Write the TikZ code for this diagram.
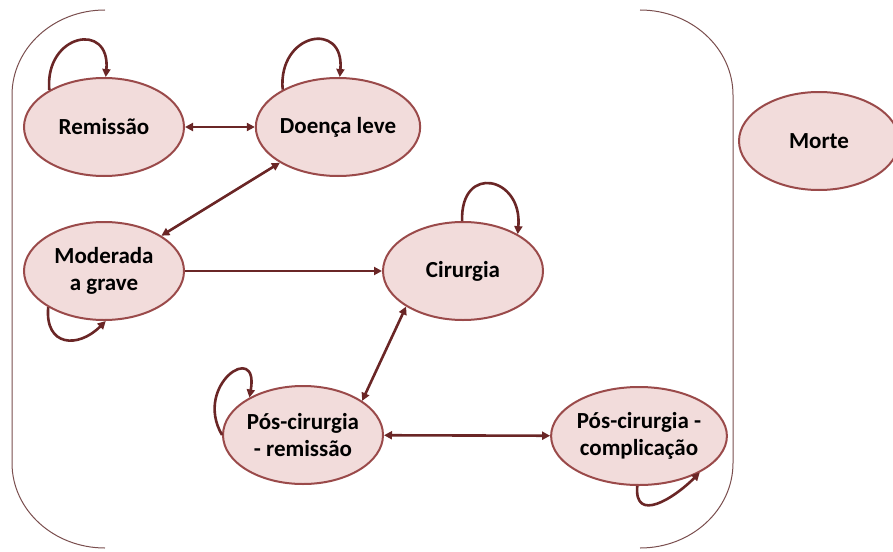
\documentclass[tikz,border=0pt]{standalone}
\usepackage{fontspec}
\setmainfont{Carlito}
\usetikzlibrary{shapes.geometric,arrows.meta}
\definecolor{fillpink}{HTML}{F2DCDB}
\definecolor{nodeedge}{HTML}{9A4A4A}
\definecolor{arrowred}{HTML}{6A2626}
\definecolor{framecol}{HTML}{7A4E4E}
\tikzset{
  state/.style={ellipse, draw=nodeedge, line width=2pt, fill=fillpink,
    minimum width=160pt, minimum height=98pt, inner sep=0pt, align=center,
    font=\fontsize{23}{27}\selectfont\bfseries},
  conn/.style={draw=arrowred, line width=2.6pt},
  tip/.tip={Triangle[length=8pt,width=8pt]},
  one/.style={conn, -tip},
  both/.style={conn, tip-tip},
  frame/.style={draw=framecol, line width=1pt}
}
\begin{document}
\begin{tikzpicture}[x=1pt,y=-1pt]
\useasboundingbox (0,0) rectangle (893,551);
% brackets
\draw[frame] (105,10) arc[start angle=90,end angle=180,x radius=93,y radius=-85]
  -- (12,463) arc[start angle=180,end angle=270,x radius=93,y radius=-85];
\draw[frame] (640,10) arc[start angle=90,end angle=0,x radius=93,y radius=-85]
  -- (733,463) arc[start angle=0,end angle=-90,x radius=93,y radius=-85];
% nodes
\node[state] (rem) at (104,127) {Remissão};
\node[state] (dl) at (338,127) {Doença leve};
\node[state] (morte) at (819,141) {Morte};
\node[state] (mod) at (104,271) {Moderada\\a grave};
\node[state] (cir) at (463,271) {Cirurgia};
\node[state] (pcr) at (303,435) {Pós-cirurgia\\- remissão};
\node[state] (pcc) at (639,436) {Pós-cirurgia -\\complicação};
% connectors
\draw[both] (rem) -- (dl);
\draw[both] (dl) -- (mod);
\draw[one] (mod) -- (cir);
\draw[both] (cir.212) -- (pcr.30);
\draw[both] (pcr) -- (pcc);
% self loops
\draw[one] (rem.146) to[out=95,in=85,looseness=2.5] (rem.88);
\draw[one] (dl.146) to[out=95,in=85,looseness=2.5] (dl.88);
\draw[one] (cir.91) to[out=92,in=85,looseness=2.6] (cir.34);
\draw[one] (mod.213) to[out=-95,in=225,looseness=1.7] (mod.272);
\draw[one] (pcr.180) to[out=120,in=80,looseness=3.2] (pcr.145);
\draw[one] (pcc.268) to[out=-95,in=225,looseness=1.5] (pcc.329);
\end{tikzpicture}
\end{document}
